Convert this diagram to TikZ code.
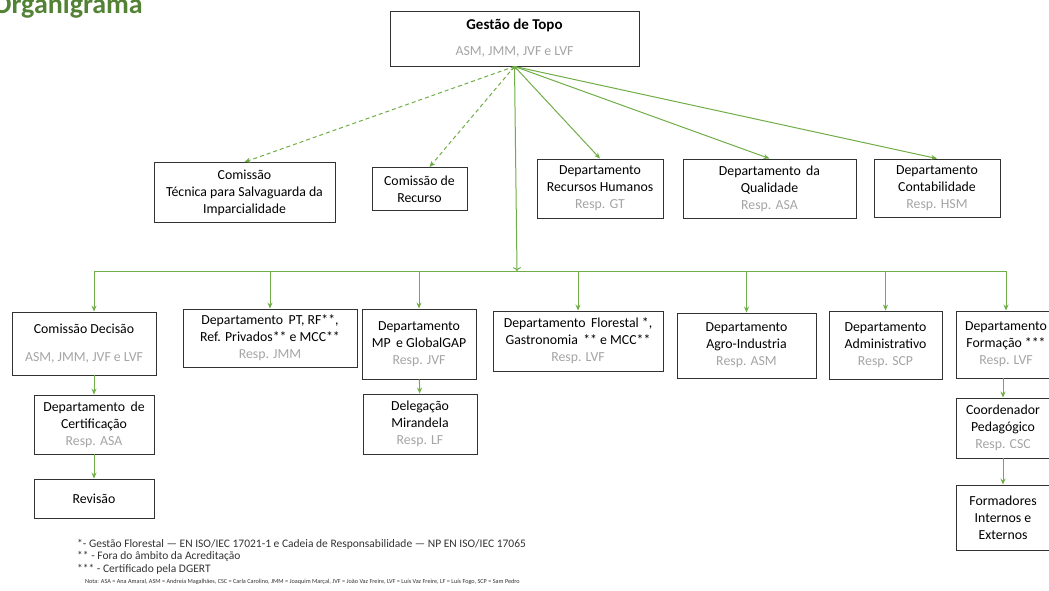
\documentclass[tikz,border=0pt]{standalone}
\usepackage{fontspec}
\setmainfont{Carlito}
\definecolor{titlegreen}{RGB}{84, 130, 53}
\definecolor{linegreen}{RGB}{112, 173, 71}
\definecolor{respgray}{RGB}{165, 165, 165}
\definecolor{boxline}{RGB}{50, 50, 50}
\definecolor{notegray}{RGB}{50, 50, 50}
\usetikzlibrary{arrows.meta, positioning, calc}
\newcommand{\resp}[1]{{\color{respgray}#1}}

\begin{document}
\begin{tikzpicture}[x=1pt, y=-1pt,
    unit/.style={draw=boxline, line width=0.9pt, fill=white, inner sep=0pt, align=center,
      font=\fontsize{13.8}{17}\selectfont},
    link/.style={draw=linegreen, line width=1pt, -{Stealth[length=6pt, width=5pt]}},
    dlink/.style={link, dash pattern=on 4pt off 3pt}]
  \useasboundingbox (0,0) rectangle (1049,590);

  % Title
  \node[anchor=base east, inner sep=0pt, text=titlegreen, font=\fontsize{28}{30}\selectfont\bfseries] (title) at (143, 13) {Organigrama};

  % Top management
  \node[unit, minimum width=249pt, minimum height=55pt] (topo) at (514.5, 38.5) {%
    {\fontsize{15}{17}\selectfont\bfseries Gestão de Topo}\\[9pt]
    \resp{ASM, JMM, JVF e LVF}};

  % First row
  \node[unit, minimum width=181pt, minimum height=60pt] (ctsi) at (244.5, 192.5) {%
    Comissão\\ Técnica para Salvaguarda da\\ Imparcialidade};
  \node[unit, minimum width=95pt, minimum height=43pt] (crec) at (419.5, 189) {%
    Comissão de\\ Recurso};
  \node[unit, minimum width=126pt, minimum height=59pt] (drh) at (600, 188.5) {%
    Departamento\\ Recursos Humanos\\ \resp{Resp. GT}};
  \node[unit, minimum width=173pt, minimum height=59pt] (dqual) at (769.5, 188.5) {%
    Departamento\, da\\ Qualidade\\ \resp{Resp. ASA}};
  \node[unit, minimum width=126pt, minimum height=58pt] (dcont) at (937, 188) {%
    Departamento\\ Contabilidade\\ \resp{Resp. HSM}};

  % Second row
  \node[unit, minimum width=144pt, minimum height=63pt] (cdec) at (84, 343.5) {%
    Comissão Decisão\\[11pt]
    \resp{ASM, JMM, JVF e LVF}};
  \node[unit, minimum width=174pt, minimum height=58pt] (dpt) at (270, 338) {%
    Departamento\, PT, RF**,\\ Ref. Privados** e MCC**\\ \resp{Resp. JMM}};
  \node[unit, minimum width=114pt, minimum height=70pt] (dmp) at (419, 344) {%
    Departamento\\ MP\, e GlobalGAP\\ \resp{Resp. JVF}};
  \node[unit, minimum width=170pt, minimum height=60pt] (dflor) at (578, 341) {%
    Departamento\, Florestal *,\\ Gastronomia\, ** e MCC**\\ \resp{Resp. LVF}};
  \node[unit, minimum width=139pt, minimum height=65pt] (dagro) at (746.5, 345.5) {%
    Departamento\\ Agro-Industria\\ \resp{Resp. ASM}};
  \node[unit, minimum width=113pt, minimum height=68pt] (dadm) at (885.5, 345) {%
    Departamento\\ Administrativo\\ \resp{Resp. SCP}};
  \node[unit, minimum width=100pt, minimum height=67pt] (dform) at (1006, 344.5) {%
    Departamento\\ Formação ***\\ \resp{Resp. LVF}};

  % Third and fourth rows
  \node[unit, minimum width=120pt, minimum height=59pt] (dcert) at (94, 424.5) {%
    Departamento\, de\\ Certificação\\ \resp{Resp. ASA}};
  \node[unit, minimum width=120pt, minimum height=39pt] (drev) at (94, 498.5) {Revisão};
  \node[unit, minimum width=114pt, minimum height=60pt] (dmir) at (420, 424) {%
    Delegação\\ Mirandela\\ \resp{Resp. LF}};
  \node[unit, minimum width=94pt, minimum height=60pt] (dcoord) at (1003, 428) {%
    Coordenador\\ Pedagógico\\ \resp{Resp. CSC}};
  \node[unit, minimum width=94pt, minimum height=65pt] (dformad) at (1003, 517.5) {%
    Formadores\\ Internos e\\ Externos};

  % Arrows from the top
  \draw[dlink] (topo.south) -- (ctsi.north);
  \draw[dlink] (topo.south) -- ([xshift=10pt]crec.north);
  \draw[link] (topo.south) -- (drh.north);
  \draw[link] (topo.south) -- (dqual.north);
  \draw[link] (topo.south) -- (dcont.north);

  % Bus to the second row
  \coordinate (bus) at (517, 271);
  \draw[link, <->] (topo.south) -- (bus);
  \draw[draw=linegreen, line width=1pt] (bus -| dcert) -- (bus -| dform);
  \draw[link] (bus -| dcert) -- (cdec.north -| dcert);
  \foreach \n in {dpt, dmp, dflor, dagro, dadm, dform}
    \draw[link] (bus -| \n) -- (\n.north);

  % Lower links
  \draw[link] (cdec.south -| dcert) -- (dcert);
  \draw[link] (dcert) -- (drev);
  \draw[link] (dmp) -- (dmir);
  \draw[link] (dform.south -| dcoord) -- (dcoord);
  \draw[link] (dcoord) -- (dformad);

  % Notes
  \node[anchor=north west, inner sep=0pt, align=left, text=notegray, font=\fontsize{11.5}{12.5}\selectfont] (notes) at (77, 539) {%
    *- Gestão Florestal --- EN ISO/IEC 17021-1 e Cadeia de Responsabilidade --- NP EN ISO/IEC 17065\\
    ** - Fora do âmbito da Acreditação\\
    *** - Certificado pela DGERT};
  \node[anchor=north west, inner sep=0pt, text=notegray, font=\fontsize{6.2}{7}\selectfont] (nota) at (85, 579) {%
    Nota: ASA = Ana Amaral, ASM = Andreia Magalhães, CSC = Carla Carolino, JMM = Joaquim Marçal, JVF = João Vaz Freire, LVF = Luís Vaz Freire, LF = Luís Fogo, SCP = Sam Pedro};
\end{tikzpicture}
\end{document}
